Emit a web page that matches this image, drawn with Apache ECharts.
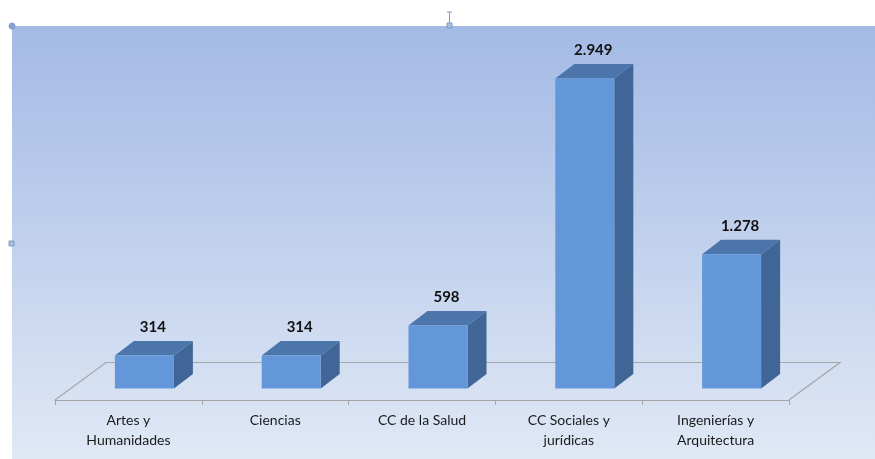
<!DOCTYPE html>
<html><head><meta charset="utf-8">
<script src="https://cdn.jsdelivr.net/npm/echarts@6/dist/echarts.min.js"></script>
<style>html,body{margin:0;padding:0;background:#fff}#c{width:875px;height:459px}</style>
</head><body><div id="c"></div>
<script>
const categories = ['Artes y\nHumanidades', 'Ciencias', 'CC de la Salud', 'CC Sociales y\njurídicas', 'Ingenierías y\nArquitectura'];
const values = [314, 314, 598, 2949, 1278];

const FONT = 'Lato, "Liberation Sans", sans-serif';
const floorDepth = [51, -37.5];
const barDepth = [19, -14.5];
const barWidth = 59;

function fmt(v) { return String(v).replace(/\B(?=(\d{3})+(?!\d))/g, '.'); }

const chart = echarts.init(document.getElementById('c'), null, {renderer: 'canvas'});
chart.setOption({
  animation: false,
  backgroundColor: '#ffffff',
  graphic: [
    {type: 'rect', z: -10, shape: {x: 12, y: 26, width: 863, height: 433},
     style: {fill: new echarts.graphic.LinearGradient(0, 0, 0, 1, [
       {offset: 0, color: '#a3bae5'}, {offset: 0.5, color: '#c1d1ed'}, {offset: 1, color: '#e0e8f5'}])}},
    {type: 'line', z: 10, shape: {x1: 449.5, y1: 12, x2: 449.5, y2: 24}, style: {stroke: '#7f9cc7', lineWidth: 1}},
    {type: 'line', z: 10, shape: {x1: 447, y1: 12, x2: 452, y2: 12}, style: {stroke: '#7f9cc7', lineWidth: 1}},
    {type: 'rect', z: 10, shape: {x: 447, y: 23, width: 5, height: 5}, style: {fill: '#a9bde0', stroke: '#7f9cc7', lineWidth: 1}},
    {type: 'rect', z: 10, shape: {x: 9, y: 241, width: 5, height: 5}, style: {fill: '#a9bde0', stroke: '#7f9cc7', lineWidth: 1}},
    {type: 'circle', z: 10, shape: {cx: 12, cy: 26, r: 3}, style: {fill: '#8aa3cc', stroke: '#7f9cc7', lineWidth: 1}}
  ],
  grid: {left: 55, right: 86, top: 32, bottom: 59},
  xAxis: {
    type: 'category', data: categories, boundaryGap: true,
    axisLine: {show: true, lineStyle: {color: '#a6a6a6', width: 1.2}},
    axisTick: {show: true, length: 5, lineStyle: {color: '#a6a6a6'}},
    axisLabel: {color: '#1a1a1a', fontFamily: FONT, fontSize: 14, lineHeight: 20, margin: 10, interval: 0}
  },
  yAxis: {type: 'value', min: 0, max: 3500, show: false, splitLine: {show: false}},
  series: [
    {
      type: 'custom', z: 1, silent: true,
      data: [[0]],
      renderItem: function (params, api) {
        const cs = params.coordSys;
        const x0 = cs.x, x1 = cs.x + cs.width, y0 = cs.y + cs.height;
        const bx0 = x0 + floorDepth[0], bx1 = x1 + floorDepth[0], by = y0 + floorDepth[1];
        return {
          type: 'polyline',
          shape: {points: [[x0, y0], [bx0, by], [bx1, by], [x1, y0]]},
          style: {stroke: '#a6a6a6', lineWidth: 1.2, fill: null}
        };
      }
    },
    {
      type: 'custom', z: 2, silent: true,
      data: values.map((v, i) => [i, v]),
      renderItem: function (params, api) {
        const i = api.value(0), v = api.value(1);
        const top = api.coord([i, v]);
        const base = api.coord([i, 0]);
        const ox = (floorDepth[0] - barDepth[0]) / 2, oy = (floorDepth[1] - barDepth[1]) / 2;
        const cx = base[0] + ox;
        const yb = base[1] + oy;
        const yt = top[1] + oy;
        const xl = cx - barWidth / 2, xr = cx + barWidth / 2;
        const dx = barDepth[0], dy = barDepth[1];
        return {
          type: 'group',
          children: [
            {type: 'polygon', shape: {points: [[xr, yb], [xr + dx, yb + dy], [xr + dx, yt + dy], [xr, yt]]}, style: {fill: '#3f6696'}},
            {type: 'polygon', shape: {points: [[xl, yt], [xr, yt], [xr + dx, yt + dy], [xl + dx, yt + dy]]}, style: {fill: '#4c75ab'}},
            {type: 'rect', shape: {x: xl, y: yt, width: barWidth, height: yb - yt}, style: {fill: '#6497da'}},
            {type: 'text', style: {x: cx + dx / 2 - 1, y: yt + dy - 6, text: fmt(v), align: 'center', verticalAlign: 'bottom',
              fill: '#111', font: 'bold 15px ' + FONT}}
          ]
        };
      }
    }
  ]
});
</script></body></html>
